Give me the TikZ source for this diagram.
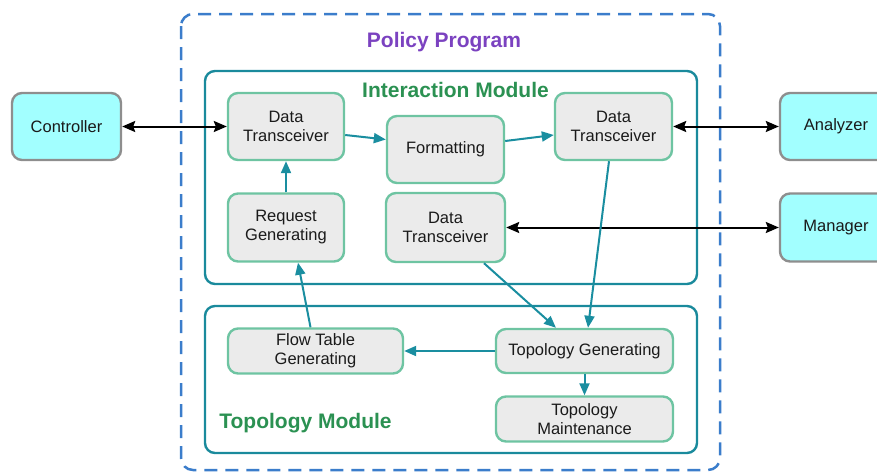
\documentclass[tikz,border=0pt]{standalone}
\usepackage{fontspec}
\setmainfont{Liberation Sans}
\usetikzlibrary{arrows.meta}
\definecolor{boxgray}{HTML}{EBEBEB}
\definecolor{boxgreen}{HTML}{6EC4A2}
\definecolor{flowteal}{HTML}{1A8EA0}
\definecolor{modteal}{HTML}{1A8A9C}
\definecolor{extcyan}{HTML}{A2FFFF}
\definecolor{extgray}{HTML}{8E8E8E}
\definecolor{dashblue}{HTML}{3B7DCB}
\definecolor{titlepurple}{HTML}{7B42C0}
\definecolor{titlegreen}{HTML}{2B9152}
\definecolor{inktext}{HTML}{1A1A1A}
\tikzset{
  stepbox/.style={draw=boxgreen, fill=boxgray, line width=2.4pt, rounded corners=10pt,
    inner sep=0pt, align=center, text=inktext, font=\fontsize{16.5}{19}\selectfont},
  extbox/.style={draw=extgray, fill=extcyan, line width=2.4pt, rounded corners=10pt,
    inner sep=0pt, align=center, text=inktext, font=\fontsize{16.5}{19}\selectfont},
  modbox/.style={draw=modteal, line width=2.4pt, rounded corners=10pt},
  flow/.style={draw=flowteal, line width=2pt, -{Triangle[length=12pt,width=10pt]}},
  link/.style={draw=black, line width=2pt, {Stealth[length=13pt,width=11pt,inset=2pt]}-{Stealth[length=13pt,width=11pt,inset=2pt]}},
  modtitle/.style={text=titlegreen, font=\fontsize{21}{24}\selectfont\bfseries},
}
\begin{document}
\begin{tikzpicture}[x=1pt,y=-1pt]
\useasboundingbox (0,0) rectangle (877,471);
\clip (0,0) rectangle (877,471);

% policy program frame
\draw[dashblue, line width=2.5pt, dash pattern=on 13pt off 8pt, rounded corners=12pt]
  (181,14) rectangle (720,470);
\node[text=titlepurple, font=\fontsize{21}{24}\selectfont\bfseries] (ptitle) at (444,42) {Policy Program};

% modules
\draw[modbox] (205,71) rectangle (697,284);
\node[modtitle] (ititle) at (455.5,90) {Interaction Module};
\draw[modbox] (205,306) rectangle (697,453);
\node[modtitle] (ttitle) at (305.5,423) {Topology Module};

% external components
\node[extbox, minimum width=109pt, minimum height=67pt] (ctrl) at (66.5,126.5) {Controller};
\node[extbox, minimum width=112pt, minimum height=67pt] (anal) at (836,126.5) {Analyzer};
\node[extbox, minimum width=112pt, minimum height=68pt] (mgr) at (836,227.5) {Manager};

% interaction module steps
\node[stepbox, minimum width=116pt, minimum height=67pt] (dt1) at (286,126.5) {Data\\Transceiver};
\node[stepbox, minimum width=117pt, minimum height=67pt] (fmt) at (445.5,149.5) {Formatting};
\node[stepbox, minimum width=117pt, minimum height=67pt] (dt2) at (613.5,126.5) {Data\\Transceiver};
\node[stepbox, minimum width=116pt, minimum height=68pt] (rg) at (286,227.5) {Request\\Generating};
\node[stepbox, minimum width=119pt, minimum height=69pt] (dt3) at (445.5,227.5) {Data\\Transceiver};

% topology module steps
\node[stepbox, minimum width=175pt, minimum height=45pt] (ft) at (315.5,351) {Flow Table\\Generating};
\node[stepbox, minimum width=177pt, minimum height=44pt] (tg) at (584.5,351) {Topology Generating};
\node[stepbox, minimum width=177pt, minimum height=45pt] (tm) at (584.5,419) {Topology\\Maintenance};

% external links
\draw[link] (ctrl.east) -- (dt1.west);
\draw[link] (dt2.east) -- (anal.west);
\draw[link] (dt3.east) -- (mgr.west);

% internal flow
\draw[flow] ([yshift=-8.5pt]dt1.east) -- ([yshift=10pt]fmt.west);
\draw[flow] ([yshift=8.5pt]fmt.east) -- ([yshift=-8.5pt]dt2.west);
\draw[flow] (rg.north) -- (dt1.south);
\draw[flow] ([xshift=-4.5pt]dt2.south) -- ([xshift=3.5pt]tg.north);
\draw[flow] ([xshift=38.5pt]dt3.south) -- ([xshift=-28.5pt]tg.north);
\draw[flow] (tg.west) -- (ft.east);
\draw[flow] (tg.south) -- (tm.north);
\draw[flow] ([xshift=-5pt]ft.north) -- ([xshift=12pt]rg.south);
\end{tikzpicture}
\end{document}
